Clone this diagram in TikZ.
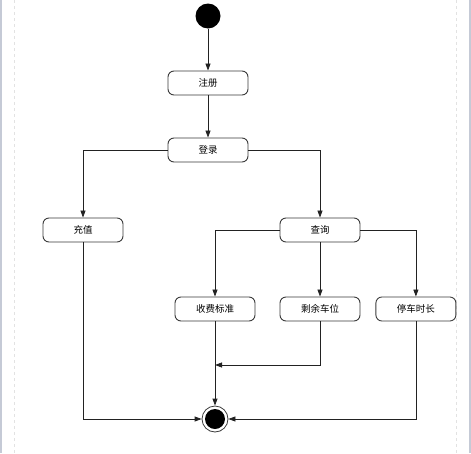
\documentclass[tikz,border=0pt]{standalone}
\usepackage{xcolor}
\usepackage{fontspec}
\newfontfamily\cjk{Noto Sans CJK SC}
\usetikzlibrary{arrows.meta,positioning}
\definecolor{ink}{HTML}{222222}
\definecolor{edge}{HTML}{3A3A3A}
\definecolor{frame}{HTML}{C5CAD6}
\definecolor{guide}{HTML}{E2E2E2}
\tikzset{act/.style={draw=edge,line width=0.9pt,rounded corners=6pt,fill=white,
  minimum width=80pt,minimum height=24pt,inner sep=0pt,font=\cjk\fontsize{9.5}{11}\selectfont},
  arrow/.style={-{Triangle[length=7pt,width=5pt]},line width=0.8pt,draw=ink}}

\begin{document}
\begin{tikzpicture}[x=1pt,y=-1pt]
\useasboundingbox (0,0) rectangle (471,453);
% page frame
\fill[frame] (0,0) rectangle (2,453);
\fill[frame] (469,0) rectangle (471,453);
\draw[guide,dashed,line width=0.8pt] (14,0) -- (14,453);
\draw[guide,dashed,line width=0.8pt] (456,0) -- (456,453);
% states
\node[circle,fill=black,minimum size=25pt,inner sep=0pt] (start) at (208,16) {};
\node[act] (reg) at (208,83) {注册};
\node[act] (login) at (208,150) {登录};
\node[act] (charge) at (83,230) {充值};
\node[act] (query) at (320,230) {查询};
\node[act] (fee) at (215,309) {收费标准};
\node[act] (remain) at (320,309) {剩余车位};
\node[act,right=15pt of remain] (park) {停车时长};
\node[circle,draw=edge,line width=0.8pt,minimum size=26pt,inner sep=0pt] (end) at (215,419) {};
\node[circle,fill=black,minimum size=20pt,inner sep=0pt] (endcore) at (end) {};
\coordinate (merge) at (215,365);
% transitions
\draw[arrow] (start) -- (reg);
\draw[arrow] (reg) -- (login);
\draw[arrow] (login.west) -| (charge.north);
\draw[arrow] (login.east) -| (query.north);
\draw[arrow] (query.west) -| (fee.north);
\draw[arrow] (query) -- (remain);
\draw[arrow] (query.east) -| (park.north);
\draw[arrow] (remain.south) |- (merge);
\draw[arrow] (fee.south) -- (end.north);
\draw[arrow] (charge.south) |- (end.west);
\draw[arrow] (park.south) |- (end.east);
\end{tikzpicture}
\end{document}
